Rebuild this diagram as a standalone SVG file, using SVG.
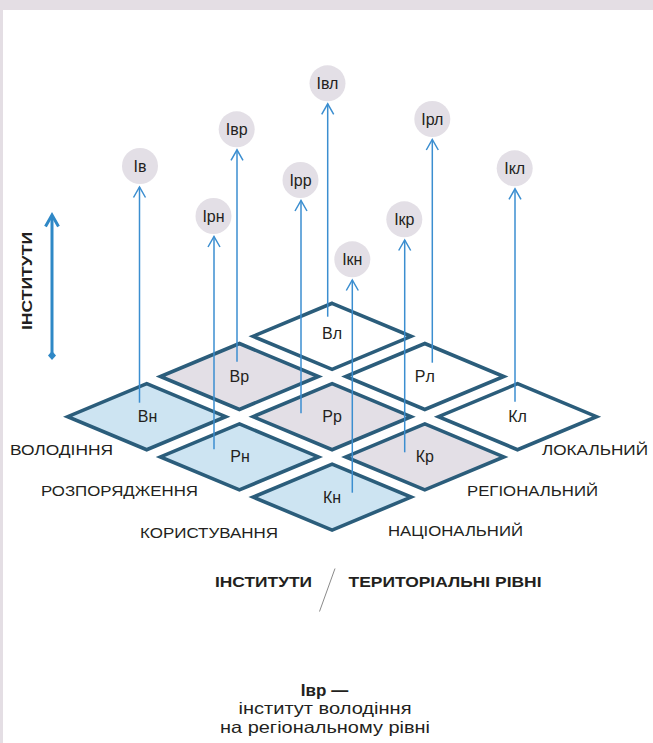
<svg xmlns="http://www.w3.org/2000/svg" width="653" height="743" viewBox="0 0 653 743">
<style>
.t{font-family:"Liberation Sans",Arial,sans-serif;fill:#231f20}
.d{stroke:#2b5d7b;stroke-width:3.6;stroke-linejoin:miter}
.n{fill:#cde4f2}.r{fill:#e3dfe6}.l{fill:#ffffff}
.c{fill:#e3dfe6}
.a{stroke:#3b8ed0;stroke-width:1.5;fill:none}
.dl{font-size:16px;text-anchor:middle}
.cl{font-size:16px;text-anchor:middle}
.sl{font-size:15.5px}
.b{font-weight:bold;font-size:15px}
</style>
<defs>
<path id="dm" d="M0,-33 L79,0 L0,33 L-79,0 Z"/>
<marker id="ah" markerUnits="userSpaceOnUse" markerWidth="14" markerHeight="14" refX="0" refY="0" orient="auto" overflow="visible">
<path d="M-10.5,-6 L0,0 L-10.5,6" fill="none" stroke="#3b8ed0" stroke-width="1.5"/>
</marker>
</defs>
<rect x="0" y="0" width="653" height="743" fill="#ffffff"/>
<rect x="0" y="0" width="653" height="10" fill="#e4dee4"/>
<rect x="0" y="0" width="3" height="743" fill="#e4dee4"/>

<g id="cell-Vl"><use href="#dm" class="d l" transform="translate(332.1,336.3)"/><text class="t dl" x="332.1" y="339">Вл</text></g>
<g id="cell-Br"><use href="#dm" class="d r" transform="translate(239.4,376.5)"/><text class="t dl" x="239.4" y="382">Вр</text></g>
<g id="cell-Pl"><use href="#dm" class="d l" transform="translate(424.8,376.5)"/><text class="t dl" x="424.8" y="382">Рл</text></g>
<g id="cell-Bn"><use href="#dm" class="d n" transform="translate(146.7,416.7)"/><text class="t dl" x="147.5" y="422.2">Вн</text></g>
<g id="cell-Pr"><use href="#dm" class="d r" transform="translate(332.1,416.7)"/><text class="t dl" x="332.1" y="422.2">Рр</text></g>
<g id="cell-Kl"><use href="#dm" class="d l" transform="translate(517.5,416.7)"/><text class="t dl" x="517.5" y="422.2">Кл</text></g>
<g id="cell-Pn"><use href="#dm" class="d n" transform="translate(239.4,456.9)"/><text class="t dl" x="240" y="462.4">Рн</text></g>
<g id="cell-Kr"><use href="#dm" class="d r" transform="translate(424.8,456.9)"/><text class="t dl" x="424.8" y="462.4">Кр</text></g>
<g id="cell-Kn"><use href="#dm" class="d n" transform="translate(332.1,497.1)"/><text class="t dl" x="332.1" y="502.6">Кн</text></g>

<g id="node-Iv"><circle class="c" cx="140" cy="166" r="18"/><text class="t cl" x="140" y="171.7">Ів</text></g>
<g id="node-Irn"><circle class="c" cx="213.5" cy="216" r="18"/><text class="t cl" x="213.5" y="221.7">Ірн</text></g>
<g id="node-Ivr"><circle class="c" cx="236.7" cy="129.3" r="18"/><text class="t cl" x="236.7" y="135">Івр</text></g>
<g id="node-Irr"><circle class="c" cx="300.5" cy="180" r="18"/><text class="t cl" x="300.5" y="185.7">Ірр</text></g>
<g id="node-Ivl"><circle class="c" cx="327.5" cy="83.3" r="18"/><text class="t cl" x="327.5" y="89">Івл</text></g>
<g id="node-Ikn"><circle class="c" cx="352.3" cy="259.3" r="18"/><text class="t cl" x="352.3" y="265">Ікн</text></g>
<g id="node-Ikr"><circle class="c" cx="404.3" cy="219.3" r="18"/><text class="t cl" x="404.3" y="225">Ікр</text></g>
<g id="node-Irl"><circle class="c" cx="432.3" cy="119" r="18"/><text class="t cl" x="432.3" y="124.7">Ірл</text></g>
<g id="node-Ikl"><circle class="c" cx="514.7" cy="168.3" r="18"/><text class="t cl" x="514.7" y="174">Ікл</text></g>

<g id="connectors">
<line class="a" x1="139.5" y1="402.7" x2="139.5" y2="187" marker-end="url(#ah)"/>
<line class="a" x1="214" y1="449.3" x2="214" y2="236.5" marker-end="url(#ah)"/>
<line class="a" x1="237" y1="361.7" x2="237" y2="149.8" marker-end="url(#ah)"/>
<line class="a" x1="301" y1="413.3" x2="301" y2="200.5" marker-end="url(#ah)"/>
<line class="a" x1="327.7" y1="316.7" x2="327.7" y2="103.8" marker-end="url(#ah)"/>
<line class="a" x1="352.3" y1="492.7" x2="352.3" y2="280" marker-end="url(#ah)"/>
<line class="a" x1="404.7" y1="452.3" x2="404.7" y2="240" marker-end="url(#ah)"/>
<line class="a" x1="432.3" y1="362.7" x2="432.3" y2="139.5" marker-end="url(#ah)"/>
<line class="a" x1="515" y1="401.7" x2="515" y2="188.8" marker-end="url(#ah)"/>
</g>

<g id="axis-institutes">
<line x1="52" y1="216" x2="52" y2="354" stroke="#2f88c6" stroke-width="3"/>
<polyline points="45.5,226.5 52,215 58.5,226.5" fill="none" stroke="#2f88c6" stroke-width="3" stroke-linejoin="miter"/>
<polygon points="52,351 56,355.5 52,360 48,355.5" fill="#2f88c6"/>
<text class="t b" transform="translate(31.5,281) rotate(-90)" text-anchor="middle" textLength="98" lengthAdjust="spacingAndGlyphs" font-size="16px">ІНСТИТУТИ</text>
</g>

<g id="labels-institutes">
<text class="t sl" x="10" y="455" textLength="103" lengthAdjust="spacingAndGlyphs">ВОЛОДІННЯ</text>
<text class="t sl" x="41" y="496" textLength="157" lengthAdjust="spacingAndGlyphs">РОЗПОРЯДЖЕННЯ</text>
<text class="t sl" x="140" y="538" textLength="138" lengthAdjust="spacingAndGlyphs">КОРИСТУВАННЯ</text>
</g>
<g id="labels-levels">
<text class="t sl" x="542" y="455" textLength="106" lengthAdjust="spacingAndGlyphs">ЛОКАЛЬНИЙ</text>
<text class="t sl" x="467" y="496" textLength="131" lengthAdjust="spacingAndGlyphs">РЕГІОНАЛЬНИЙ</text>
<text class="t sl" x="388" y="536" textLength="135" lengthAdjust="spacingAndGlyphs">НАЦІОНАЛЬНИЙ</text>
</g>

<g id="legend-axes">
<text class="t b" x="215" y="587" textLength="97" lengthAdjust="spacingAndGlyphs">ІНСТИТУТИ</text>
<line x1="335" y1="568.5" x2="319.5" y2="611.5" stroke="#8a8a8a" stroke-width="1"/>
<text class="t b" x="348.5" y="587" textLength="193" lengthAdjust="spacingAndGlyphs">ТЕРИТОРІАЛЬНІ РІВНІ</text>
</g>

<g id="legend-note">
<text class="t" x="324.5" y="696" text-anchor="middle" font-size="17px" font-weight="bold">Івр —</text>
<text class="t" x="325" y="714" text-anchor="middle" font-size="16.5px" textLength="173" lengthAdjust="spacingAndGlyphs">інститут володіння</text>
<text class="t" x="325" y="733" text-anchor="middle" font-size="16.5px" textLength="210" lengthAdjust="spacingAndGlyphs">на регіональному рівні</text>
</g>
</svg>
